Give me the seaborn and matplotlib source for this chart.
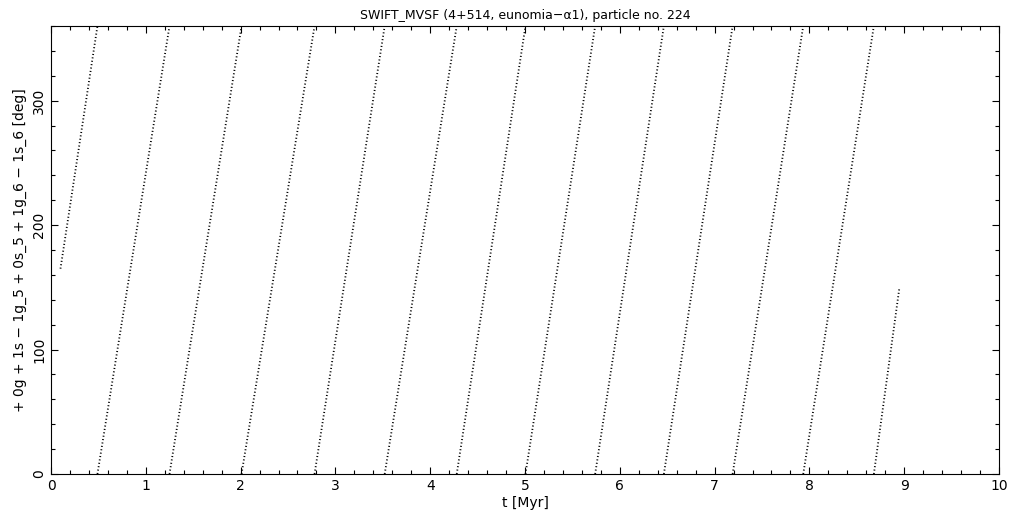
import pandas as pd
import matplotlib.pyplot as plt
import seaborn as sns
from matplotlib.ticker import MultipleLocator

# --- data ---
# each circulation cycle of the resonant angle: start/end time [Myr] and angle [deg]
seg_t_start = [0.10, 0.49, 1.25, 2.01, 2.78, 3.52, 4.28, 5.005, 5.74, 6.465, 7.19, 7.935, 8.68]
seg_t_end = [0.49, 1.25, 2.01, 2.78, 3.52, 4.28, 5.005, 5.74, 6.465, 7.19, 7.935, 8.68, 8.95]
seg_a_start = [165, 0, 0, 0, 0, 0, 0, 0, 0, 0, 0, 0, 0]
seg_a_end = [360, 360, 360, 360, 360, 360, 360, 360, 360, 360, 360, 360, 150]

rows = []
for i in range(len(seg_t_start)):
    rows.append({'seg': i, 't': seg_t_start[i], 'angle': seg_a_start[i]})
    rows.append({'seg': i, 't': seg_t_end[i], 'angle': seg_a_end[i]})
df = pd.DataFrame(rows)

sns.set_style('ticks')
plt.rcParams['font.family'] = ['DejaVu Sans']
plt.rcParams['text.color'] = 'black'
plt.rcParams['axes.labelcolor'] = 'black'
plt.rcParams['xtick.color'] = 'black'
plt.rcParams['ytick.color'] = 'black'
plt.rcParams['axes.edgecolor'] = 'black'

fig = plt.figure(figsize=(10.21, 5.11), dpi=100)
ax = fig.add_axes([51 / 1021, 37 / 511, 948 / 1021, 448 / 511])

sns.lineplot(data=df, x='t', y='angle', units='seg', estimator=None,
             color='black', linewidth=1.3, linestyle=(0, (0.6, 1.3)), ax=ax)

ax.set_xlim(0, 10)
ax.set_ylim(0, 360)
ax.xaxis.set_major_locator(MultipleLocator(1))
ax.xaxis.set_minor_locator(MultipleLocator(0.2))
ax.yaxis.set_major_locator(MultipleLocator(100))
ax.yaxis.set_minor_locator(MultipleLocator(20))
ax.tick_params(which='both', direction='in', top=True, right=True, width=0.8, labelsize=10)
ax.tick_params(which='major', length=5)
ax.tick_params(which='minor', length=3)
for lab in ax.get_yticklabels():
    lab.set_rotation(90)
    lab.set_va('center')
for s in ax.spines.values():
    s.set_linewidth(0.8)

ax.set_title('SWIFT_MVSF (4+514, eunomia\u2212\u03b11), particle no. 224', fontsize=9, pad=5)
ax.set_xlabel('t [Myr]', fontsize=10, labelpad=2)
ax.set_ylabel('+ 0g + 1s \u2212 1g_5 + 0s_5 + 1g_6 \u2212 1s_6 [deg]', fontsize=10, labelpad=4)

plt.savefig('out.png', dpi=100)
